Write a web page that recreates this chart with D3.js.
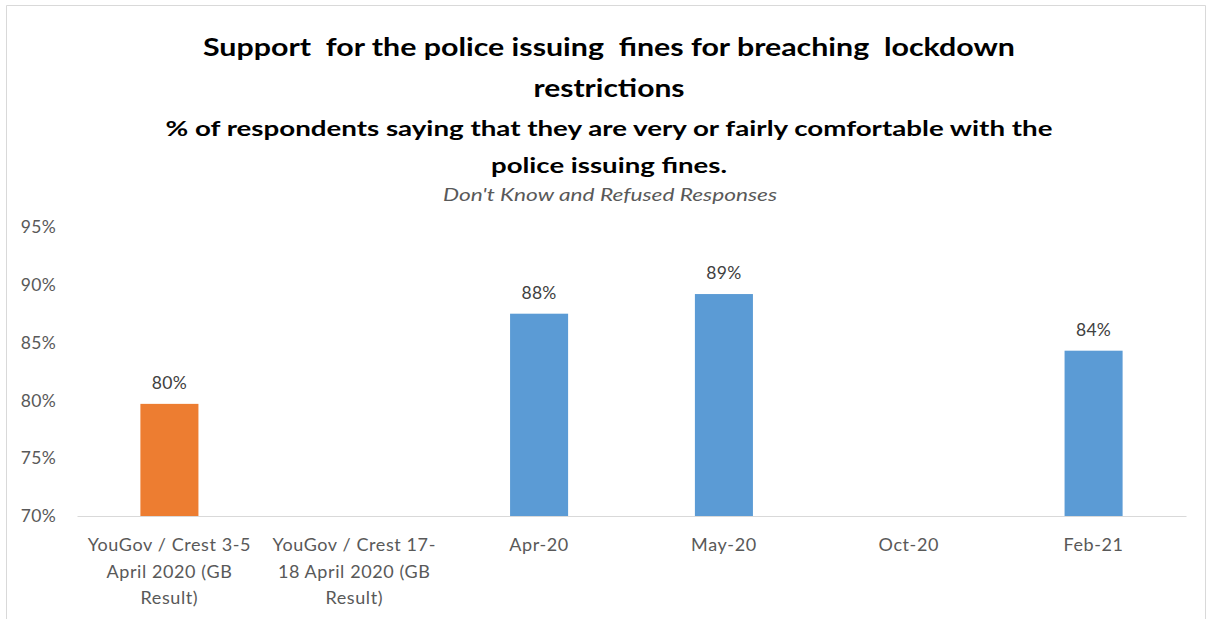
<!DOCTYPE html>
<html>
<head>
<meta charset="utf-8">
<script src="https://cdn.jsdelivr.net/npm/d3@7"></script>
<style>
  html, body { margin: 0; padding: 0; background: #ffffff; }
  svg { display: block; font-family: Lato, "Open Sans", "Liberation Sans", sans-serif; }
  text { white-space: pre; }
</style>
</head>
<body>
<svg id="chart" width="1212" height="619"></svg>
<script>
// Survey waves (line breaks mark where each axis label wraps)
const categories = [
  "YouGov / Crest 3-5\nApril 2020 (GB\nResult)",
  "YouGov / Crest 17-\n18 April 2020 (GB\nResult)",
  "Apr-20",
  "May-20",
  "Oct-20",
  "Feb-21"
];
// % very or fairly comfortable; null = no result for that wave
const values = [79.7, null, 87.5, 89.2, null, 84.3];
// Source of each result: national poll vs. own survey
const sources = ["poll", "poll", "survey", "survey", "survey", "survey"];
const yTicks = [70, 75, 80, 85, 90, 95];

const titleLines = [
  "Support  for the police issuing  fines for breaching  lockdown",
  "restrictions"
];
const subtitleLines = [
  "% of respondents saying that they are very or fairly comfortable with the",
  "police issuing fines."
];
const noteText = "Don't Know and Refused Responses";

const colorBySource = { poll: "#ED7D31", survey: "#5B9BD5" };

const svg = d3.select("#chart");
const W = 1212, H = 619;

// Outer frame (open at the bottom edge)
svg.append("path")
  .attr("d", `M6.5,${H} V5.5 H1205.5 V${H}`)
  .attr("fill", "none")
  .attr("stroke", "#d9d9d9")
  .attr("stroke-width", 1);

// Titles
const titleSpecs = [
  { text: titleLines[0], y: 56, size: 24, weight: 700, len: 812, color: "#000" },
  { text: titleLines[1], y: 97, size: 24, weight: 700, len: 151, color: "#000" },
  { text: subtitleLines[0], y: 136, size: 21, weight: 700, len: 887, color: "#000" },
  { text: subtitleLines[1], y: 173, size: 21, weight: 700, len: 236, color: "#000" },
];
titleSpecs.forEach(s => {
  svg.append("text")
    .attr("x", 609).attr("y", s.y)
    .attr("text-anchor", "middle")
    .attr("font-size", s.size)
    .attr("font-weight", s.weight)
    .attr("fill", s.color)
    .attr("textLength", s.len)
    .attr("lengthAdjust", "spacingAndGlyphs")
    .text(s.text);
});
svg.append("text")
  .attr("x", 610).attr("y", 201)
  .attr("text-anchor", "middle")
  .attr("font-size", 17)
  .attr("font-style", "italic")
  .attr("fill", "#595959")
  .attr("textLength", 334)
  .attr("lengthAdjust", "spacingAndGlyphs")
  .text(noteText);

// Plot area
const plot = { left: 77, right: 1186, top: 227, bottom: 516 };

const x = d3.scaleBand()
  .domain(categories)
  .range([plot.left, plot.right])
  .paddingInner(0.686)
  .paddingOuter(0.343);

const y = d3.scaleLinear()
  .domain([70, 95])
  .range([plot.bottom, plot.top]);

// Y axis labels
const yAxis = svg.append("g")
  .attr("transform", `translate(${plot.left},0)`)
  .call(d3.axisLeft(y).tickValues(yTicks).tickSize(0).tickPadding(21).tickFormat(d => d + "%"));
yAxis.select(".domain").remove();
yAxis.selectAll("text")
  .attr("font-size", 17.5)
  .attr("letter-spacing", 0.3)
  .attr("fill", "#595959")
  .attr("font-family", "Lato, 'Open Sans', sans-serif");

// Bars
const data = categories.map((c, i) => ({ cat: c, value: values[i], source: sources[i] }))
  .filter(d => d.value != null);

svg.append("g").selectAll("rect")
  .data(data)
  .join("rect")
  .attr("x", d => x(d.cat))
  .attr("width", x.bandwidth())
  .attr("y", d => y(d.value))
  .attr("height", d => y(70) - y(d.value))
  .attr("fill", d => colorBySource[d.source]);

// Value labels
svg.append("g").selectAll("text")
  .data(data)
  .join("text")
  .attr("x", d => x(d.cat) + x.bandwidth() / 2)
  .attr("y", d => y(d.value) - 15)
  .attr("text-anchor", "middle")
  .attr("font-size", 17.5)
  .attr("letter-spacing", 0.3)
  .attr("fill", "#404040")
  .text(d => Math.round(d.value) + "%");

// Category axis baseline
const xAxis = svg.append("g")
  .attr("transform", `translate(0,${plot.bottom})`)
  .call(d3.axisBottom(x).tickSize(0).tickFormat(""));
xAxis.select(".domain").attr("stroke", "#d9d9d9").attr("stroke-width", 1.2);

// Wrapped category labels
const catLabels = svg.append("g").selectAll("text")
  .data(categories)
  .join("text")
  .attr("x", d => x(d) + x.bandwidth() / 2)
  .attr("y", plot.bottom + 35)
  .attr("text-anchor", "middle")
  .attr("font-size", 18)
  .attr("letter-spacing", 0.6)
  .attr("fill", "#595959");
catLabels.each(function(d) {
  const t = d3.select(this);
  d.split("\n").forEach((line, i) => {
    t.append("tspan")
      .attr("x", x(d) + x.bandwidth() / 2)
      .attr("dy", i === 0 ? 0 : 26.5)
      .text(line);
  });
});
</script>
</body>
</html>
